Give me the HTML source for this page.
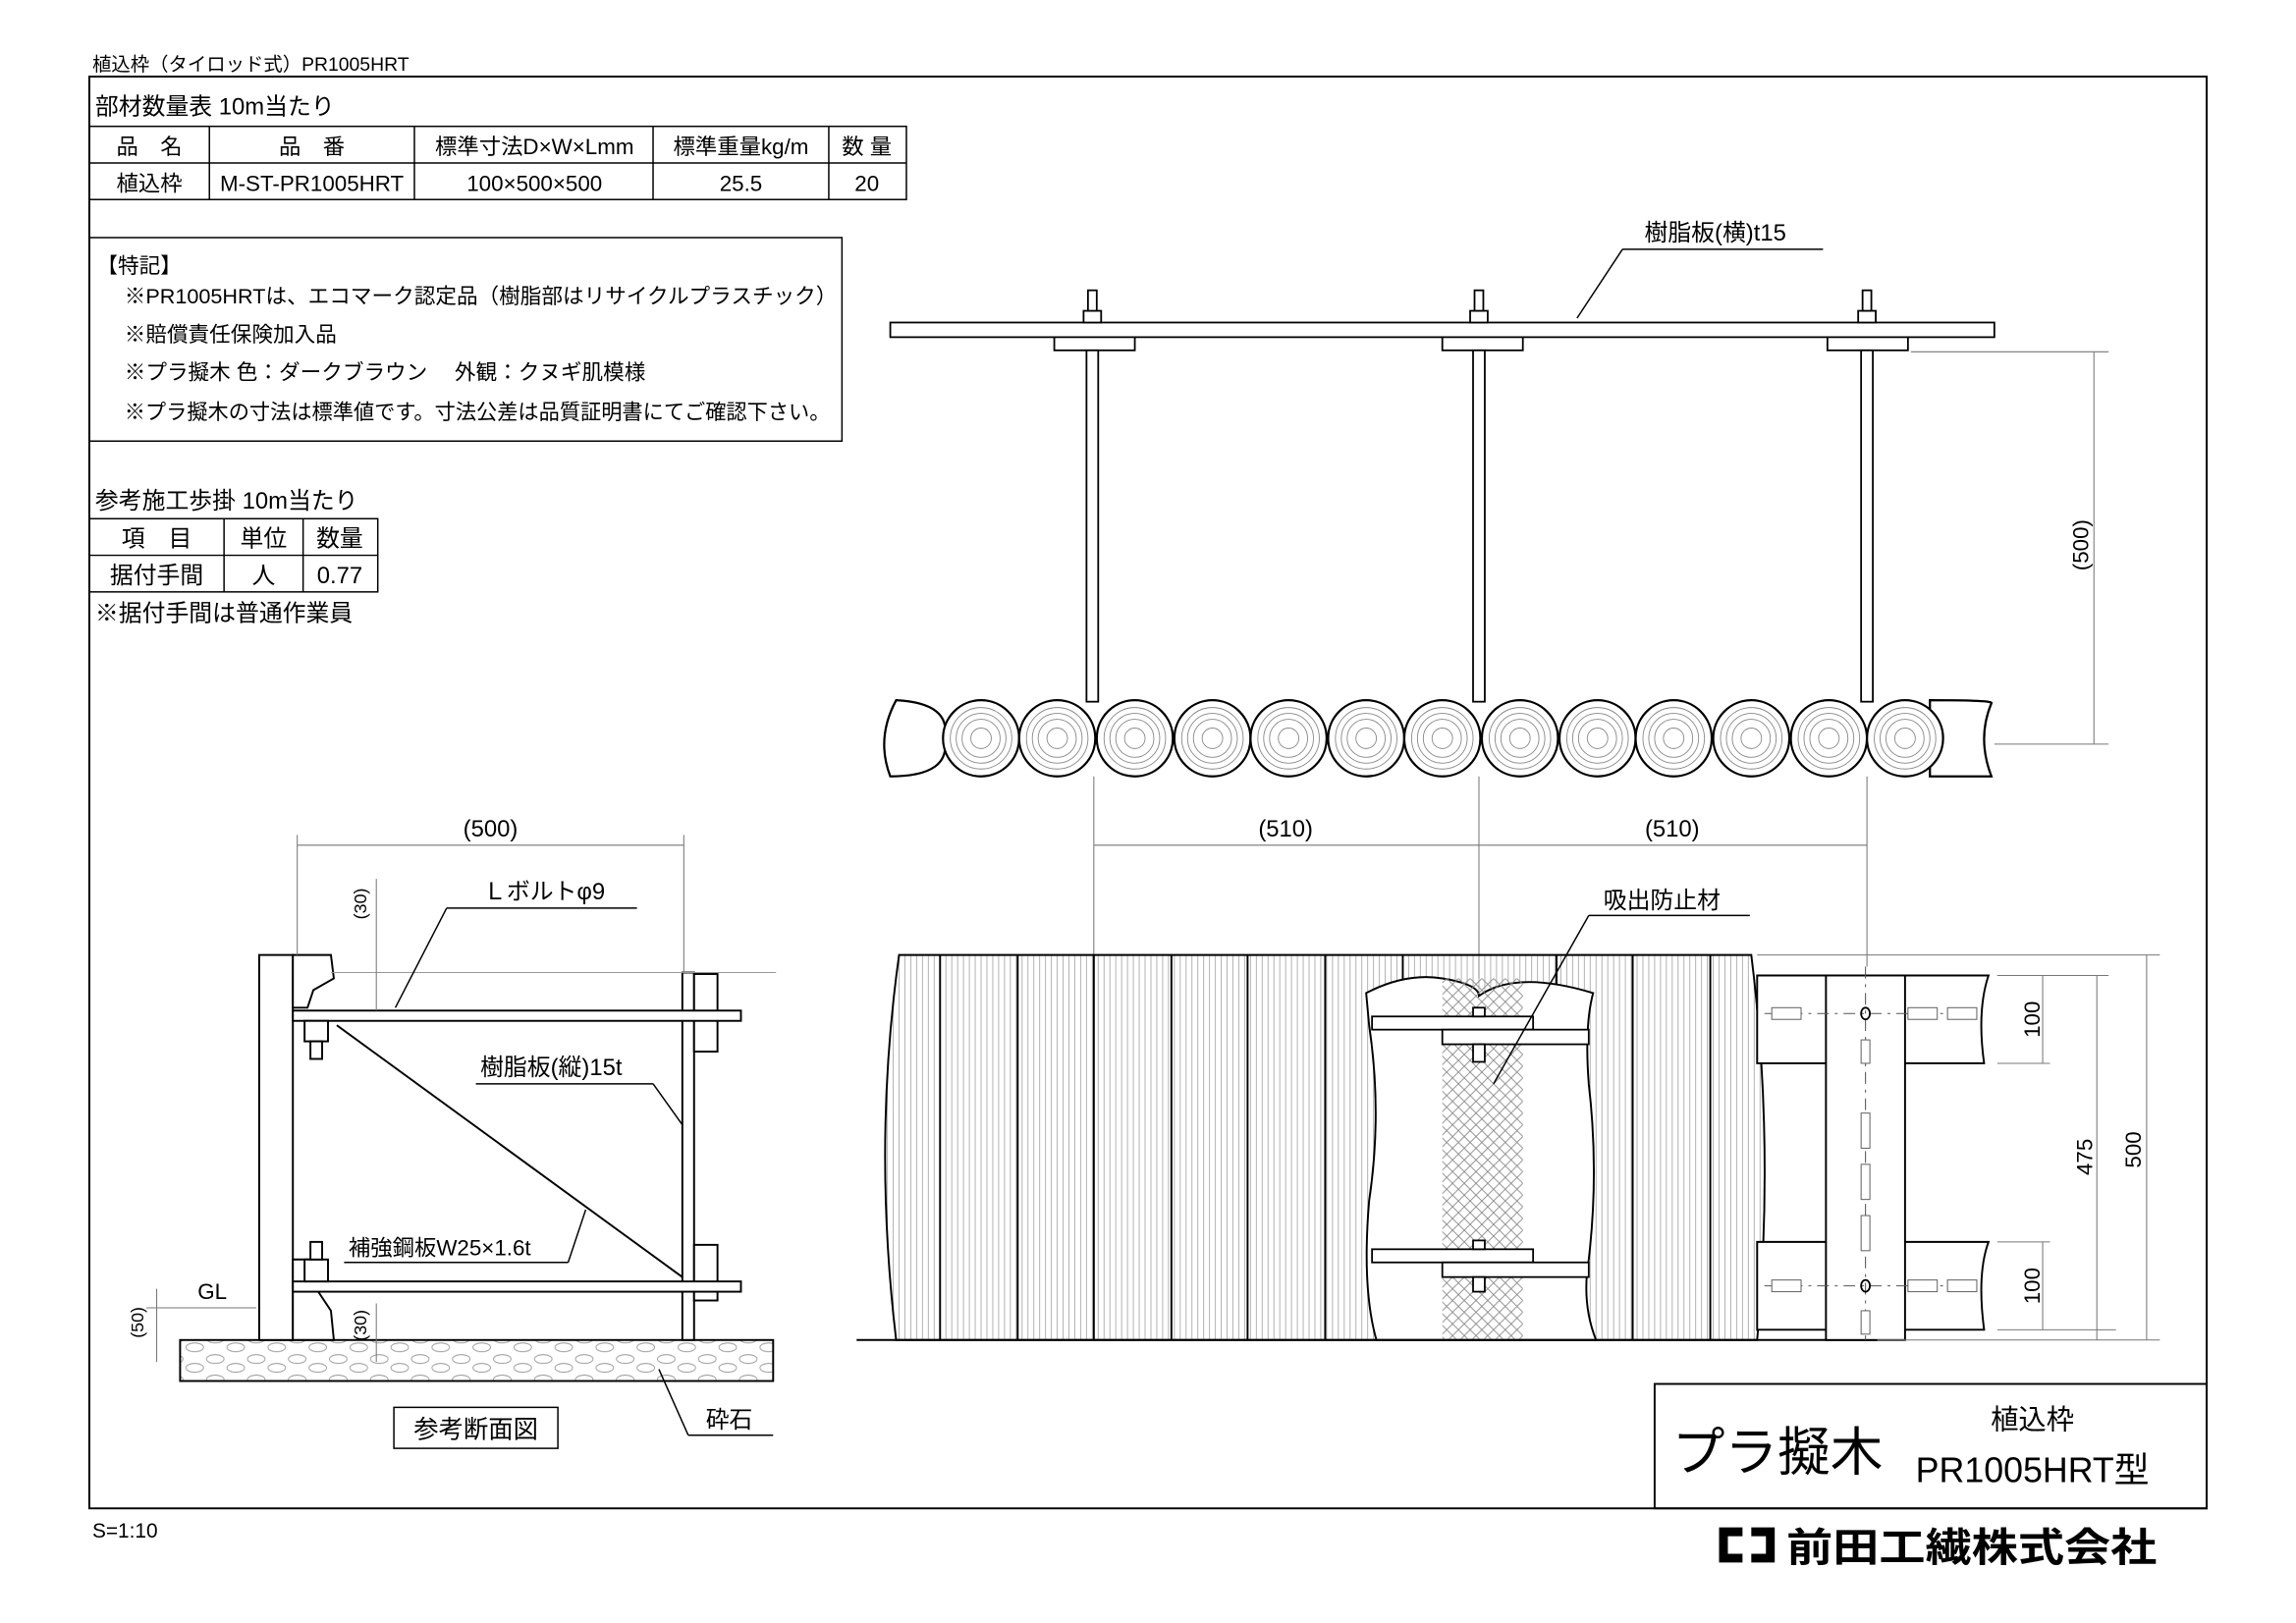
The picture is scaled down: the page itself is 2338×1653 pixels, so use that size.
<!DOCTYPE html>
<html><head><meta charset="utf-8"><style>
html,body{margin:0;padding:0;background:#fff}
svg{display:block}
text{font-family:"Liberation Sans","Noto Sans CJK JP",sans-serif;fill:#000}
</style></head><body>
<svg width="2338" height="1653" viewBox="0 0 1568 1108" xmlns="http://www.w3.org/2000/svg">
<defs>
<pattern id="hx" width="8" height="8" patternUnits="userSpaceOnUse"><path d="M0 0L8 8M8 0L0 8" stroke="#888" stroke-width="0.6" fill="none"/></pattern>
<pattern id="vl" width="8" height="10" patternUnits="userSpaceOnUse"><path d="M2 0V10M6 0V10" stroke="#999" stroke-width="0.5"/></pattern>
<pattern id="gr" width="28" height="14" patternUnits="userSpaceOnUse"><ellipse cx="7" cy="4" rx="6" ry="3" fill="none" stroke="#999" stroke-width="0.6"/><ellipse cx="21" cy="10" rx="6" ry="3" fill="none" stroke="#999" stroke-width="0.6"/></pattern>
<g id="log"><circle r="26" fill="#fff" stroke="#000" stroke-width="1.5"/><circle r="21" fill="none" stroke="#888" stroke-width=".6"/><circle r="17" fill="none" stroke="#888" stroke-width=".6"/><circle r="13" fill="none" stroke="#888" stroke-width=".6"/><circle r="7" fill="none" stroke="#888" stroke-width=".6"/></g>
</defs>
<text x="63" y="48" font-size="13">植込枠（タイロッド式）PR1005HRT</text>
<rect x="61" y="52" width="1446" height="978" fill="none" stroke="#000" stroke-width="1.3"/>
<!-- table 1 -->
<text x="65" y="78" font-size="16">部材数量表 10m当たり</text>
<g stroke="#000" stroke-width="1" fill="none">
<rect x="61" y="86" width="558" height="50"/><line x1="61" y1="111" x2="619" y2="111"/>
<line x1="143" y1="86" x2="143" y2="136"/><line x1="283" y1="86" x2="283" y2="136"/><line x1="446" y1="86" x2="446" y2="136"/><line x1="566" y1="86" x2="566" y2="136"/>
</g>
<g font-size="15" text-anchor="middle">
<text x="102" y="105">品　名</text><text x="213" y="105">品　番</text><text x="365" y="105">標準寸法D×W×Lmm</text><text x="506" y="105">標準重量kg/m</text><text x="592" y="105">数 量</text>
<text x="102" y="130">植込枠</text><text x="213" y="130">M-ST-PR1005HRT</text><text x="365" y="130">100×500×500</text><text x="506" y="130">25.5</text><text x="592" y="130">20</text>
</g>
<!-- notes -->
<rect x="61" y="162" width="514" height="139" fill="none" stroke="#000"/>
<g font-size="14.5">
<text x="66" y="186">【特記】</text>
<text x="85" y="207">※PR1005HRTは、エコマーク認定品（樹脂部はリサイクルプラスチック）</text>
<text x="85" y="233">※賠償責任保険加入品</text>
<text x="85" y="259">※プラ擬木 色：ダークブラウン　 外観：クヌギ肌模様</text>
<text x="85" y="286" textLength="482" lengthAdjust="spacingAndGlyphs">※プラ擬木の寸法は標準値です。寸法公差は品質証明書にてご確認下さい。</text>
</g>
<!-- table 2 -->
<text x="65" y="347" font-size="16">参考施工歩掛 10m当たり</text>
<g stroke="#000" fill="none"><rect x="61" y="354" width="197" height="50"/><line x1="61" y1="379" x2="258" y2="379"/><line x1="153" y1="354" x2="153" y2="404"/><line x1="207" y1="354" x2="207" y2="404"/></g>
<g font-size="16" text-anchor="middle"><text x="107" y="373">項　目</text><text x="180" y="373">単位</text><text x="232" y="373">数量</text><text x="107" y="398">据付手間</text><text x="180" y="398">人</text><text x="232" y="398">0.77</text></g>
<text x="65" y="424" font-size="16">※据付手間は普通作業員</text>

<!-- top view -->
<g stroke="#000" stroke-width="1.2" fill="#fff">
<rect x="608" y="220" width="754" height="10"/>
<rect x="720" y="230" width="55" height="9"/><rect x="985" y="230" width="55" height="9"/><rect x="1248" y="230" width="55" height="9"/>
<rect x="742" y="239" width="8" height="240"/><rect x="1006" y="239" width="8" height="240"/><rect x="1271" y="239" width="8" height="240"/>
<rect x="740" y="212" width="12" height="8"/><rect x="1004" y="212" width="12" height="8"/><rect x="1269" y="212" width="12" height="8"/>
<rect x="743" y="198" width="6" height="14"/><rect x="1007" y="198" width="6" height="14"/><rect x="1272" y="198" width="6" height="14"/>
</g>
<line x1="1077" y1="217" x2="1108" y2="170" stroke="#000"/><line x1="1108" y1="170" x2="1245" y2="170" stroke="#000"/>
<text x="1123" y="164" font-size="16">樹脂板(横)t15</text>
<!-- logs -->
<path d="M612 478 Q650 480 645 504 Q650 530 608 530 Q598 504 612 478Z" fill="#fff" stroke="#000" stroke-width="1.5"/>
<path d="M1318 478 Q1362 478 1360 480 Q1350 504 1360 530 L1318 530Z" fill="#fff" stroke="#000" stroke-width="1.5"/>
<g>
<use href="#log" x="670" y="504"/><use href="#log" x="722" y="504"/><use href="#log" x="775" y="504"/><use href="#log" x="828" y="504"/><use href="#log" x="880" y="504"/><use href="#log" x="933" y="504"/><use href="#log" x="985" y="504"/><use href="#log" x="1038" y="504"/><use href="#log" x="1091" y="504"/><use href="#log" x="1143" y="504"/><use href="#log" x="1196" y="504"/><use href="#log" x="1249" y="504"/><use href="#log" x="1301" y="504"/>
</g>
<!-- (500) vertical -->
<g stroke="#777" stroke-width=".7"><line x1="1305" y1="240" x2="1440" y2="240"/><line x1="1362" y1="508" x2="1440" y2="508"/><line x1="1430" y1="240" x2="1430" y2="508"/></g>
<text transform="translate(1426,372) rotate(-90)" font-size="15" text-anchor="middle">(500)</text>
<!-- 510 dims -->
<g stroke="#777" stroke-width=".7"><line x1="747" y1="530" x2="747" y2="652"/><line x1="1010" y1="530" x2="1010" y2="668"/><line x1="1275" y1="530" x2="1275" y2="660"/><line x1="747" y1="577" x2="1275" y2="577"/></g>
<text x="878" y="571" font-size="16" text-anchor="middle">(510)</text><text x="1142" y="571" font-size="16" text-anchor="middle">(510)</text>

<!-- front view -->
<path d="M614 652 L1196 652 Q1212 780 1200 915 L612 915 Q596 780 614 652Z" fill="url(#vl)" stroke="#000" stroke-width="1.3"/>
<g stroke="#000" stroke-width="1.3"><line x1="642" y1="652" x2="642" y2="915"/><line x1="695" y1="652" x2="695" y2="915"/><line x1="747" y1="652" x2="747" y2="915"/><line x1="800" y1="652" x2="800" y2="915"/><line x1="852" y1="652" x2="852" y2="915"/><line x1="905" y1="652" x2="905" y2="915"/><line x1="958" y1="652" x2="958" y2="915"/><line x1="1063" y1="652" x2="1063" y2="915"/><line x1="1115" y1="652" x2="1115" y2="915"/><line x1="1168" y1="652" x2="1168" y2="915"/></g>
<path d="M933 678 Q960 664 985 668 Q1010 672 1010 680 Q1035 662 1088 678 Q1082 700 1085 740 Q1092 800 1085 860 Q1080 890 1090 915 L940 915 Q930 880 935 820 Q944 760 935 700Z" fill="#fff" stroke="#000" stroke-width="1.3"/>
<rect x="985" y="668" width="55" height="247" fill="url(#hx)"/>
<g stroke="#000" stroke-width="1.2" fill="#fff">
<rect x="937" y="694" width="110" height="9"/><rect x="985" y="703" width="100" height="10"/>
<rect x="937" y="853" width="110" height="9"/><rect x="985" y="862" width="100" height="10"/>
<rect x="1006" y="688" width="8" height="6"/><rect x="1006" y="713" width="8" height="12"/><rect x="1006" y="847" width="8" height="6"/><rect x="1006" y="872" width="8" height="10"/>
</g>
<line x1="1020" y1="740" x2="1085" y2="625" stroke="#000"/><line x1="1085" y1="625" x2="1195" y2="625" stroke="#000"/>
<text x="1095" y="620" font-size="16">吸出防止材</text>
<line x1="585" y1="915" x2="1282" y2="915" stroke="#000" stroke-width="1.3"/>
<!-- right side rails -->
<g stroke="#000" stroke-width="1.3" fill="#fff">
<path d="M1200 666 L1358 666 Q1350 690 1355 726 L1200 726Z"/>
<path d="M1200 848 L1358 848 Q1350 870 1355 908 L1200 908Z"/>
<rect x="1247" y="666" width="54" height="249"/>
</g>
<g stroke="#555" stroke-width=".7" fill="none" stroke-dasharray="8 4 2 4"><line x1="1274" y1="660" x2="1274" y2="915"/><line x1="1205" y1="692" x2="1350" y2="692"/><line x1="1205" y1="878" x2="1350" y2="878"/></g>
<g stroke="#666" stroke-width=".7" fill="#fff">
<rect x="1210" y="688" width="20" height="8"/><rect x="1303" y="688" width="20" height="8"/><rect x="1330" y="688" width="20" height="8"/>
<rect x="1210" y="874" width="20" height="8"/><rect x="1303" y="874" width="20" height="8"/><rect x="1330" y="874" width="20" height="8"/>
<rect x="1271" y="710" width="6" height="16"/><rect x="1271" y="760" width="6" height="24"/><rect x="1271" y="795" width="6" height="24"/><rect x="1271" y="830" width="6" height="24"/><rect x="1271" y="895" width="6" height="16"/>
</g>
<ellipse cx="1274" cy="692" rx="3" ry="4" fill="none" stroke="#000" stroke-width="1.2"/><ellipse cx="1274" cy="878" rx="3" ry="4" fill="none" stroke="#000" stroke-width="1.2"/>
<g stroke="#777" stroke-width=".7"><line x1="1364" y1="666" x2="1400" y2="666"/><line x1="1364" y1="726" x2="1400" y2="726"/><line x1="1364" y1="848" x2="1400" y2="848"/><line x1="1364" y1="908" x2="1445" y2="908"/><line x1="1200" y1="652" x2="1475" y2="652"/><line x1="1282" y1="915" x2="1475" y2="915"/>
<line x1="1395" y1="666" x2="1395" y2="726"/><line x1="1395" y1="848" x2="1395" y2="908"/><line x1="1432" y1="666" x2="1432" y2="915"/><line x1="1466" y1="652" x2="1466" y2="915"/><line x1="1364" y1="666" x2="1440" y2="666"/></g>
<g font-size="15" text-anchor="middle">
<text transform="translate(1393,696) rotate(-90)">100</text><text transform="translate(1393,878) rotate(-90)">100</text>
<text transform="translate(1429,790) rotate(-90)">475</text><text transform="translate(1462,785) rotate(-90)">500</text></g>

<!-- section view -->
<rect x="123" y="915" width="405" height="28" fill="url(#gr)" stroke="#000" stroke-width="1.3"/>
<g stroke="#000" stroke-width="1.3" fill="#fff">
<rect x="177" y="652" width="23" height="263"/>
<path d="M200 652 L226 652 L228 668 L214 676 L210 688 L200 688Z"/>
<path d="M200 860 L214 860 L216 880 L226 895 L228 915 L200 915Z"/>
<rect x="466" y="664" width="8" height="251"/>
<rect x="474" y="665" width="16" height="53"/><rect x="474" y="850" width="16" height="38"/>
<rect x="200" y="690" width="306" height="7"/><rect x="200" y="875" width="306" height="7"/>
<rect x="208" y="697" width="16" height="14"/><rect x="208" y="860" width="16" height="15"/>
<rect x="212" y="711" width="8" height="12"/><rect x="212" y="848" width="8" height="12"/>
</g>
<line x1="230" y1="700" x2="466" y2="872" stroke="#000" stroke-width="1.3"/>
<line x1="226" y1="664" x2="530" y2="664" stroke="#999" stroke-width=".7"/>
<g stroke="#777" stroke-width=".7"><line x1="203" y1="577" x2="467" y2="577"/><line x1="203" y1="570" x2="203" y2="652"/><line x1="467" y1="570" x2="467" y2="664"/>
<line x1="257" y1="600" x2="257" y2="690"/><line x1="257" y1="890" x2="257" y2="930"/><line x1="100" y1="893" x2="175" y2="893"/><line x1="107" y1="880" x2="107" y2="930"/></g>
<text x="335" y="571" font-size="16" text-anchor="middle">(500)</text>
<g font-size="12" text-anchor="middle"><text transform="translate(250,617) rotate(-90)">(30)</text><text transform="translate(250,905) rotate(-90)">(30)</text><text transform="translate(98,903) rotate(-90)">(50)</text></g>
<text x="135" y="887" font-size="15">GL</text>
<line x1="270" y1="688" x2="305" y2="620" stroke="#000"/><line x1="305" y1="620" x2="435" y2="620" stroke="#000"/>
<text x="330" y="614" font-size="16">Ｌボルトφ9</text>
<line x1="466" y1="768" x2="446" y2="740" stroke="#000"/><line x1="325" y1="740" x2="446" y2="740" stroke="#000"/>
<text x="328" y="734" font-size="16">樹脂板(縦)15t</text>
<line x1="400" y1="826" x2="388" y2="862" stroke="#000"/><line x1="235" y1="862" x2="388" y2="862" stroke="#000"/>
<text x="238" y="857" font-size="15">補強鋼板W25×1.6t</text>
<line x1="450" y1="935" x2="470" y2="980" stroke="#000"/><line x1="470" y1="980" x2="528" y2="980" stroke="#000"/>
<text x="482" y="975" font-size="16">砕石</text>
<rect x="269" y="961" width="112" height="28" fill="none" stroke="#000"/>
<text x="325" y="982" font-size="17" text-anchor="middle">参考断面図</text>

<!-- title block -->
<rect x="1130" y="945" width="377" height="85" fill="none" stroke="#000" stroke-width="1.3"/>
<text x="1142" y="1004" font-size="36">プラ擬木</text>
<text x="1388" y="976" font-size="19" text-anchor="middle">植込枠</text>
<text x="1388" y="1012" font-size="24" text-anchor="middle">PR1005HRT型</text>
<text x="63" y="1050" font-size="14">S=1:10</text>
<path d="M1190 1043 h-16 v24 h16 v-6 h-10 v-12 h10Z" fill="#000"/><path d="M1196 1043 h16 v24 h-16 v-6 h10 v-12 h-10Z" fill="#000"/>
<text x="1220" y="1066" font-size="27" font-weight="bold" textLength="253" lengthAdjust="spacingAndGlyphs">前田工繊株式会社</text>
</svg>
</body></html>
